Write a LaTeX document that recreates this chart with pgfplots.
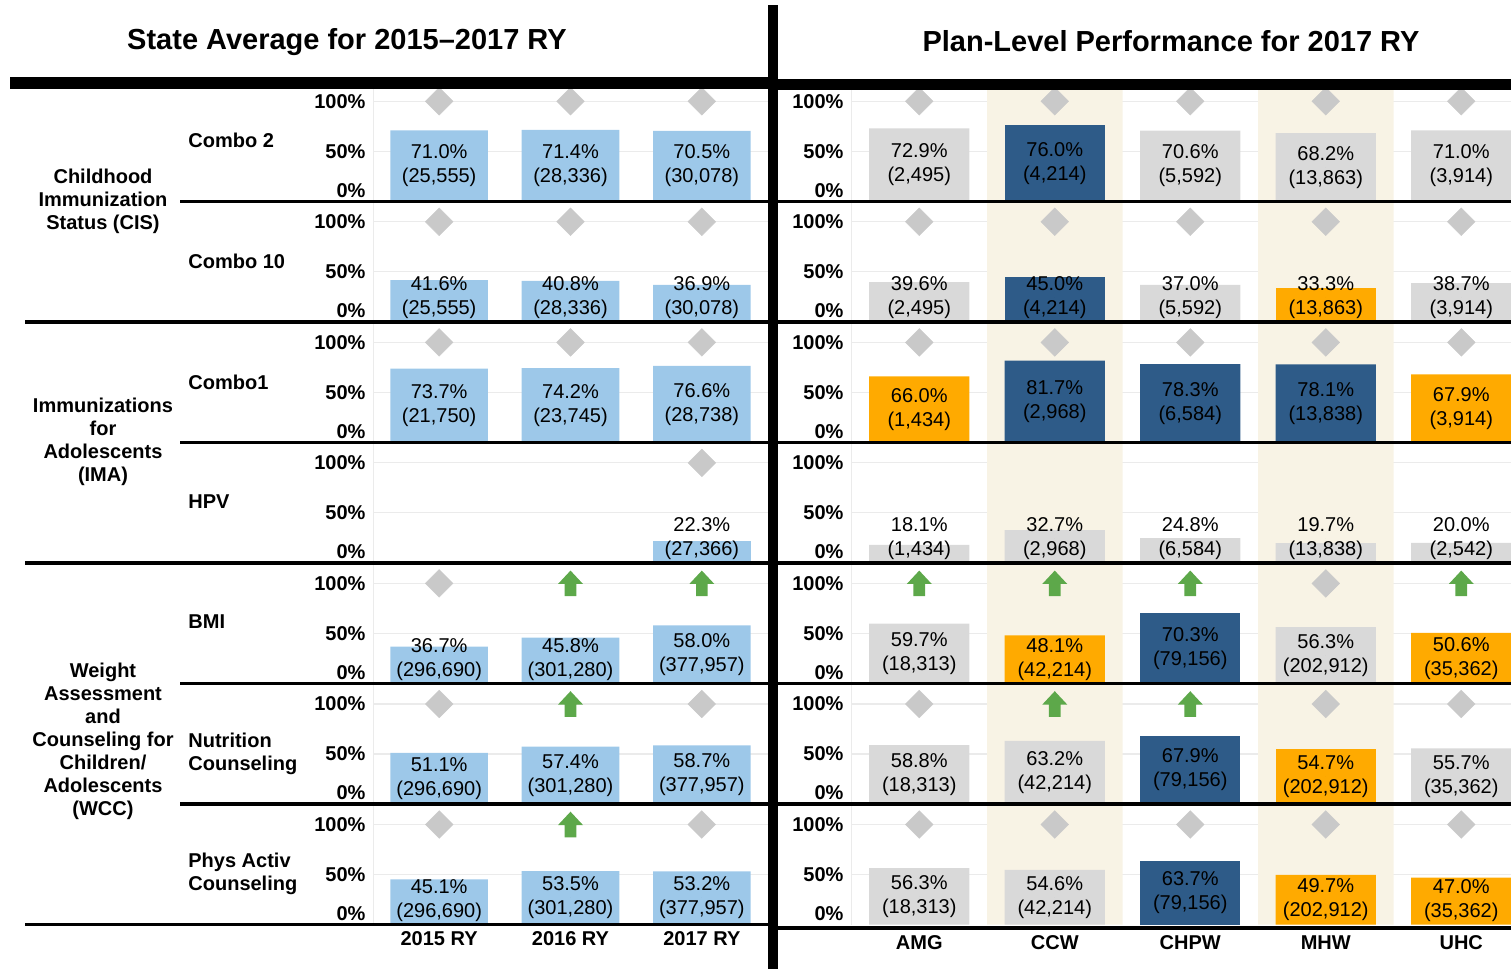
\documentclass[border=0pt]{standalone}
\usepackage{fontspec}
\setmainfont{Liberation Sans}
\usepackage{pgfplots}
\usepackage{pgfplotstable}
\pgfplotsset{compat=1.18}

\definecolor{lblue}{HTML}{9DC8E9}
\definecolor{gbar}{HTML}{D9D9D9}
\definecolor{dblue}{HTML}{2E5B88}
\definecolor{orng}{HTML}{FFAA00}
\definecolor{diag}{HTML}{C9C9C9}
\definecolor{agreen}{HTML}{5DA84A}
\definecolor{beige}{HTML}{F8F3E5}
\definecolor{gridc}{HTML}{EBEBEB}

\newcommand\fT{\fontsize{14.5}{17}\selectfont\bfseries}
\newcommand\fL{\fontsize{10}{11.5}\selectfont\bfseries}
\newcommand\fB{\fontsize{10}{12}\selectfont}
\newcommand\fK{\fontsize{10}{12}\selectfont\bfseries}

% green "improved" arrow
\pgfdeclareplotmark{uparr}{%
  \pgfpathmoveto{\pgfqpoint{-2.9pt}{-6.4pt}}%
  \pgfpathlineto{\pgfqpoint{2.9pt}{-6.4pt}}%
  \pgfpathlineto{\pgfqpoint{2.9pt}{-0.3pt}}%
  \pgfpathlineto{\pgfqpoint{6.25pt}{-0.3pt}}%
  \pgfpathlineto{\pgfqpoint{0pt}{6.4pt}}%
  \pgfpathlineto{\pgfqpoint{-6.25pt}{-0.3pt}}%
  \pgfpathlineto{\pgfqpoint{-2.9pt}{-0.3pt}}%
  \pgfpathclose
  \pgfusepathqfill}

\pgfplotsset{
  rowax/.style={scale only axis, anchor=south west, height=60.26pt,
    ymin=0, ymax=120.5, axis line style={draw=none},
    major tick length=0pt, tick style={draw=none},
    ytick={11,50,100}, yticklabels={0\%,50\%,100\%},
    yticklabel style={font=\fK, anchor=east, inner sep=0pt, xshift=-3.8pt},
    xtick=\empty,
    extra y ticks={50,100}, extra y tick labels={},
    extra x ticks={-0.5}, extra x tick labels={},
    extra y tick style={grid=major}, extra x tick style={grid=major},
    major grid style={draw=gridc, line width=0.6pt},
    xticklabel style={font=\fK, anchor=north, inner sep=0pt},
  },
  leftax/.style={rowax, width=197pt, xmin=-0.5, xmax=2.5},
  rightax/.style={rowax, width=329.75pt, xmin=-0.5, xmax=4.367},
}

% State average, 2015-2017 RY (x: 0=2015, 1=2016, 2=2017; m: 1 diamond, 2 arrow)
\pgfplotstableread{
x v n m
0 71.0 25,555 1
1 71.4 28,336 1
2 70.5 30,078 1
}\LA
\pgfplotstableread{
x v n m
0 41.6 25,555 1
1 40.8 28,336 1
2 36.9 30,078 1
}\LB
\pgfplotstableread{
x v n m
0 73.7 21,750 1
1 74.2 23,745 1
2 76.6 28,738 1
}\LC
\pgfplotstableread{
x v n m
2 22.3 27,366 1
}\LD
\pgfplotstableread{
x v n m
0 36.7 296,690 1
1 45.8 301,280 2
2 58.0 377,957 2
}\LE
\pgfplotstableread{
x v n m
0 51.1 296,690 1
1 57.4 301,280 2
2 58.7 377,957 1
}\LF
\pgfplotstableread{
x v n m
0 45.1 296,690 1
1 53.5 301,280 2
2 53.2 377,957 1
}\LG

% plan level 2017 RY (c: 0 gray, 1 dark blue, 2 orange)
\pgfplotstableread{
x v n c m
0 72.9 2,495 0 1
1 76.0 4,214 1 1
2 70.6 5,592 0 1
3 68.2 13,863 0 1
4 71.0 3,914 0 1
}\RA
\pgfplotstableread{
x v n c m
0 39.6 2,495 0 1
1 45.0 4,214 1 1
2 37.0 5,592 0 1
3 33.3 13,863 2 1
4 38.7 3,914 0 1
}\RB
\pgfplotstableread{
x v n c m
0 66.0 1,434 2 1
1 81.7 2,968 1 1
2 78.3 6,584 1 1
3 78.1 13,838 1 1
4 67.9 3,914 2 1
}\RC
\pgfplotstableread{
x v n c m
0 18.1 1,434 0 0
1 32.7 2,968 0 0
2 24.8 6,584 0 0
3 19.7 13,838 0 0
4 20.0 2,542 0 0
}\RD
\pgfplotstableread{
x v n c m
0 59.7 18,313 0 2
1 48.1 42,214 2 2
2 70.3 79,156 1 2
3 56.3 202,912 0 1
4 50.6 35,362 2 2
}\RE
\pgfplotstableread{
x v n c m
0 58.8 18,313 0 1
1 63.2 42,214 0 2
2 67.9 79,156 1 2
3 54.7 202,912 2 1
4 55.7 35,362 0 1
}\RF
\pgfplotstableread{
x v n c m
0 56.3 18,313 0 1
1 54.6 42,214 0 1
2 63.7 79,156 1 1
3 49.7 202,912 2 1
4 47.0 35,362 2 1
}\RG

\newcommand{\barlabels}[1]{%
  \addplot[only marks, mark=*, mark size=0pt, mark options={draw=none,fill=none},
    point meta=explicit symbolic,
    visualization depends on={\thisrow{v} \as \vv},
    nodes near coords={\pgfmathprintnumber[fixed, fixed zerofill, precision=1,
      assume math mode=true]{\vv}\%\\(\pgfplotspointmeta)},
    nodes near coords align={center},
    every node near coord/.append style={font=\fB, align=center, inner sep=0pt, text=black}]
    table[x=x, y expr={max(\thisrow{v}/2,24)}, meta=n] {#1};}

\newcommand{\markers}[1]{%
  \addplot[only marks, mark=square*, mark size=4.9pt, color=diag, line width=0.2pt,
    mark options={rotate=45},
    restrict expr to domain={\thisrow{m}}{1:1}] table[x=x, y expr=100] {#1};
  \addplot[only marks, mark=uparr, color=agreen,
    restrict expr to domain={\thisrow{m}}{2:2}] table[x=x, y expr=100] {#1};}

\newcommand{\leftrow}[3][]{%
  \begin{axis}[leftax, at={(186.75pt,#2)}, #1]
    \addplot[ybar, bar width=0.743, bar shift=0pt, fill=lblue, draw=none]
      table[x=x, y=v] {#3};
    \barlabels{#3}
    \markers{#3}
  \end{axis}}

\newcommand{\rightrow}[3][]{%
  \begin{axis}[rightax, at={(425.75pt,#2)}, #1]
    \addplot[ybar, bar width=1, bar shift=0pt, fill=beige, draw=none]
      coordinates {(1,120.5) (3,120.5)};
    \addplot[ybar, bar width=0.74, bar shift=0pt, fill=gbar, draw=none,
      restrict expr to domain={\thisrow{c}}{0:0}] table[x=x, y=v] {#3};
    \addplot[ybar, bar width=0.74, bar shift=0pt, fill=dblue, draw=none,
      restrict expr to domain={\thisrow{c}}{1:1}] table[x=x, y=v] {#3};
    \addplot[ybar, bar width=0.74, bar shift=0pt, fill=orng, draw=none,
      restrict expr to domain={\thisrow{c}}{2:2}] table[x=x, y=v] {#3};
    \barlabels{#3}
    \markers{#3}
  \end{axis}}

\begin{document}
\begin{tikzpicture}
\useasboundingbox (0pt,0pt) rectangle (755.5pt,-484.5pt);

\leftrow{-100.65pt}{\LA}
\leftrow{-160.9pt}{\LB}
\leftrow{-221.2pt}{\LC}
\leftrow{-281.45pt}{\LD}
\leftrow{-341.7pt}{\LE}
\leftrow{-402.0pt}{\LF}
\leftrow[xtick={0,1,2}, xticklabels={2015 RY,2016 RY,2017 RY},
  xticklabel style={yshift=-3.3pt}]{-462.25pt}{\LG}

\rightrow{-100.65pt}{\RA}
\rightrow{-160.9pt}{\RB}
\rightrow{-221.2pt}{\RC}
\rightrow{-281.45pt}{\RD}
\rightrow{-341.7pt}{\RE}
\rightrow{-402.0pt}{\RF}
\rightrow[xtick={0,1,2,3,4}, xticklabels={AMG,CCW,CHPW,MHW,UHC},
  xticklabel style={yshift=-5.3pt}]{-462.25pt}{\RG}

\begin{scope}[x=0.5pt, y=-0.5pt]
  % titles
  \node[font=\fT] at (347,42) {State Average for 2015–2017 RY};
  \node[font=\fT] at (1171,41) {Plan-Level Performance for 2017 RY};
  % frame lines
  \draw[line width=6pt] (10,83) -- (773,83);
  \draw[line width=5.5pt] (773,84) -- (1511,84);
  \draw[line width=5pt] (773,5) -- (773,969);
  \foreach \y/\x in {201.3/180, 321.8/25, 442.4/180, 562.9/25, 683.4/180, 804.0/180, 924.5/25}
    \draw[line width=1.8pt] (\x,\y) -- (773,\y);
  \foreach \y in {201.3, 321.8, 442.4, 562.9, 683.4, 804.0, 928}
    \draw[line width=1.8pt] (773,\y) -- (1511,\y);
  % measure labels
  \begin{scope}[every node/.style={font=\fL, anchor=west, align=left, inner sep=0pt}]
    \node at (188,140) {Combo 2};
    \node at (188,261.5) {Combo 10};
    \node at (188,382) {Combo1};
    \node at (188,502) {HPV};
    \node at (188,622) {BMI};
    \node at (188,753.5) {Nutrition\\Counseling};
    \node at (188,874) {Phys Activ\\Counseling};
  \end{scope}
  \begin{scope}[every node/.style={font=\fL, align=center, inner sep=0pt}]
    \node at (103,201) {Childhood\\Immunization\\Status (CIS)};
    \node at (103,441.5) {Immunizations\\for\\Adolescents\\(IMA)};
    \node at (103,741.5) {Weight\\Assessment\\and\\Counseling for\\Children/\\Adolescents\\(WCC)};
  \end{scope}
\end{scope}
\end{tikzpicture}
\end{document}
